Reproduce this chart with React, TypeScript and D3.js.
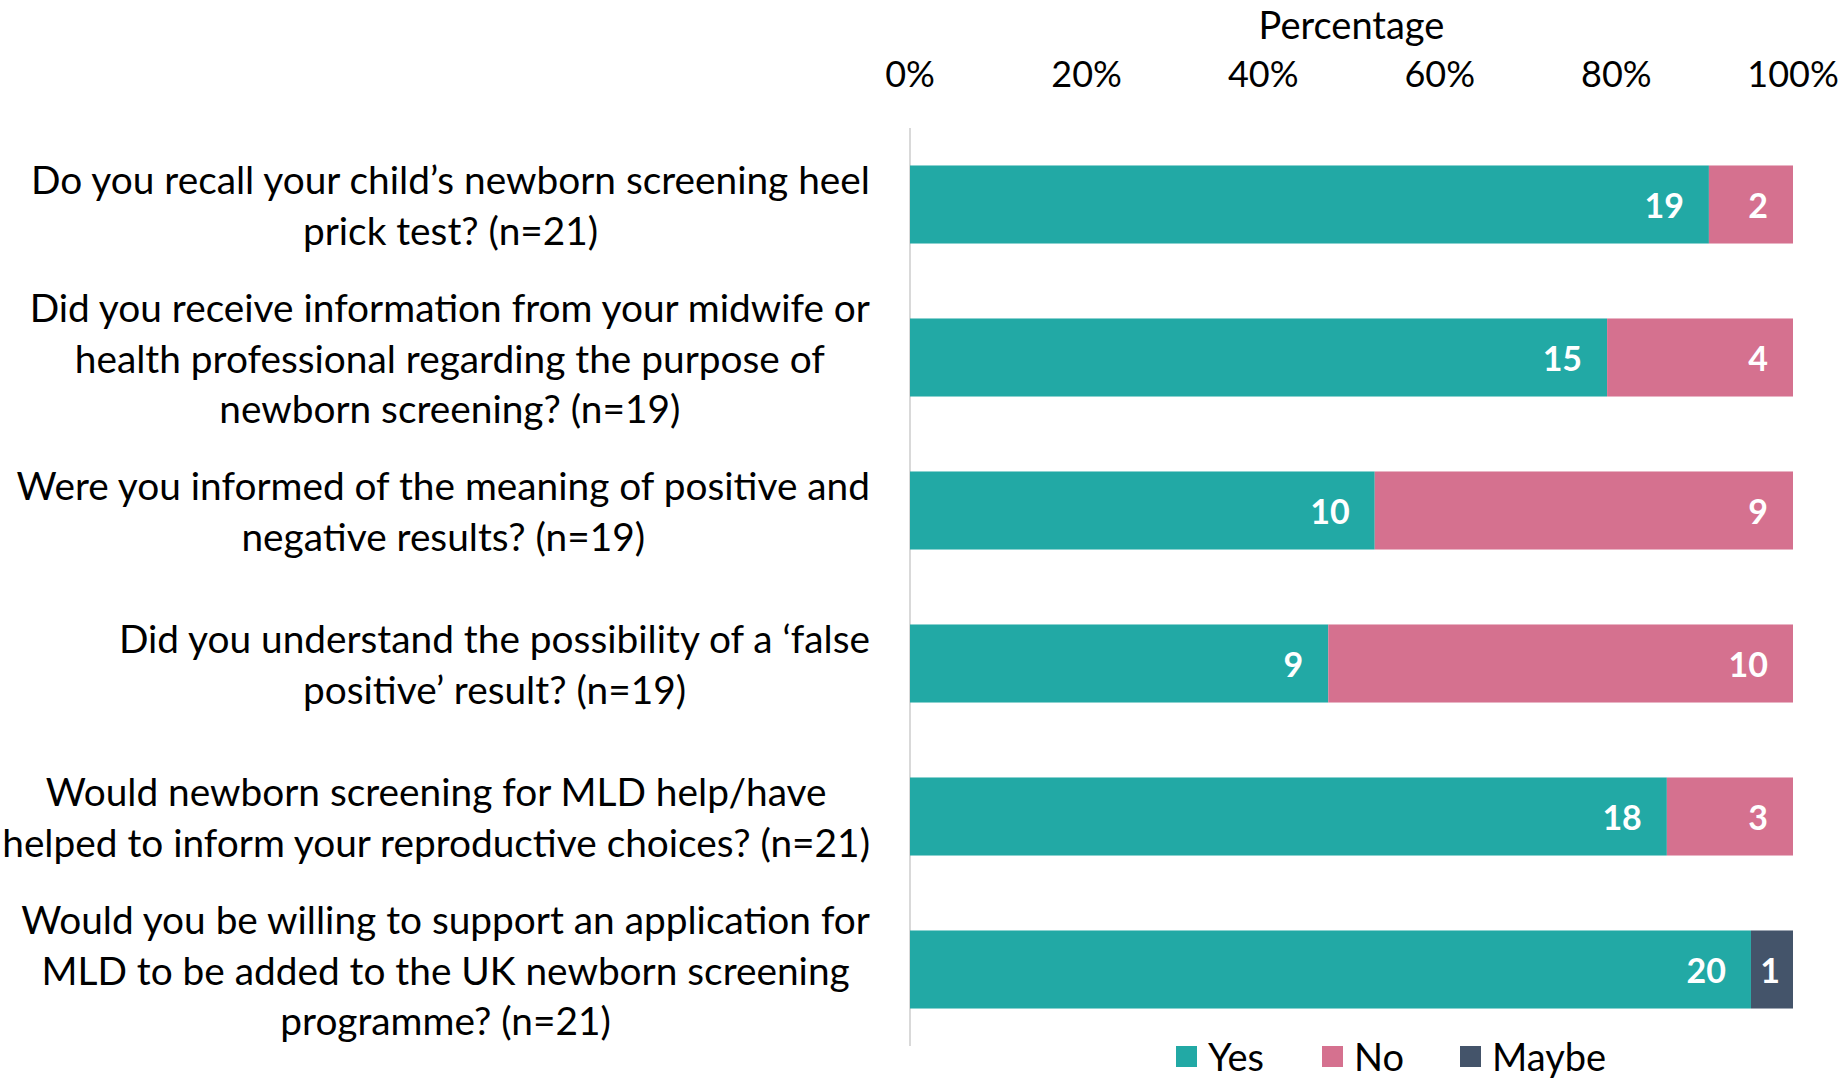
import React, { useEffect, useRef } from "react";
import * as d3 from "d3";

const categories: string[][] = [
  ["Do you recall your child’s newborn screening heel", "prick test? (n=21)"],
  ["Did you receive information from your midwife or", "health professional regarding the purpose of", "newborn screening? (n=19)"],
  ["Were you informed of the meaning of positive and", "negative results? (n=19)"],
  ["Did you understand the possibility of a ‘false", "positive’ result? (n=19)"],
  ["Would newborn screening for MLD help/have", "helped to inform your reproductive choices? (n=21)"],
  ["Would you be willing to support an application for", "MLD to be added to the UK newborn screening", "programme? (n=21)"],
];
const yesValues = [19, 15, 10, 9, 18, 20];
const noValues = [2, 4, 9, 10, 3, 0];
const maybeValues = [0, 0, 0, 0, 0, 1];
const seriesNames = ["Yes", "No", "Maybe"];
const seriesColors = ["#22A9A5", "#D5718F", "#44546A"];
const tickValues = [0, 0.2, 0.4, 0.6, 0.8, 1.0];

const W = 1839;
const H = 1082;
const FONT = "Lato, 'Open Sans', sans-serif";

export default function App() {
  const ref = useRef<SVGSVGElement>(null);

  useEffect(() => {
    document.body.style.margin = "0";
    const svg = d3.select(ref.current);
    svg.selectAll("*").remove();

    const x0 = 910, x1 = 1793, yTop = 128, yBot = 1046;
    const x = d3.scaleLinear().domain([0, 1]).range([x0, x1]);
    const y = d3.scaleBand<number>().domain(d3.range(categories.length)).range([yTop, yBot]).paddingInner(0.49).paddingOuter(0.245);

    const rows = categories.map((_, i) => {
      const total = yesValues[i] + noValues[i] + maybeValues[i];
      return { i, Yes: yesValues[i] / total, No: noValues[i] / total, Maybe: maybeValues[i] / total, raw: [yesValues[i], noValues[i], maybeValues[i]] };
    });
    const stack = d3.stack<any>().keys(seriesNames);
    const stacked = stack(rows);

    // axis line
    svg.append("line").attr("x1", x0).attr("x2", x0).attr("y1", yTop).attr("y2", yBot)
      .attr("stroke", "#D9D9D9").attr("stroke-width", 2);

    // bars
    stacked.forEach((layer, si) => {
      const g = svg.append("g");
      layer.forEach((d, ri) => {
        const v = rows[ri].raw[si];
        if (v === 0) return;
        const xa = x(d[0]), xb = x(d[1]);
        const by = y(ri)!;
        g.append("rect").attr("x", xa).attr("y", by).attr("width", xb - xa).attr("height", y.bandwidth())
          .attr("fill", seriesColors[si]);
        const pad = Math.min(25, (xb - xa) / 2 - 8);
        g.append("text").attr("x", xb - pad).attr("y", by + y.bandwidth() / 2)
          .attr("text-anchor", "end").attr("dominant-baseline", "central")
          .attr("fill", "#fff").attr("font-weight", 700).attr("font-size", 34).attr("font-family", FONT)
          .text(String(v));
      });
    });

    // top axis ticks
    svg.append("g").selectAll("text").data(tickValues).join("text")
      .attr("x", (d) => x(d)).attr("y", 73).attr("text-anchor", "middle").attr("dominant-baseline", "central")
      .attr("font-size", 36).attr("font-family", FONT).attr("fill", "#000")
      .text((d) => d3.format(".0%")(d));
    svg.append("text").attr("x", (x0 + x1) / 2).attr("y", 24).attr("text-anchor", "middle")
      .attr("dominant-baseline", "central").attr("font-size", 38).attr("font-family", FONT).attr("fill", "#000")
      .text("Percentage");

    // category labels
    const rightEdge = 870;
    const lineH = 50.8;
    categories.forEach((lines, i) => {
      const cy = y(i)! + y.bandwidth() / 2;
      const g = svg.append("g");
      const texts = lines.map((ln, li) =>
        g.append("text").attr("y", cy + (li - (lines.length - 1) / 2) * lineH)
          .attr("text-anchor", "middle").attr("dominant-baseline", "central")
          .attr("font-size", 38.8).attr("font-family", FONT).attr("fill", "#000").text(ln)
      );
      const maxW = d3.max(texts, (t) => (t.node() as SVGTextElement).getComputedTextLength()) || 0;
      texts.forEach((t) => t.attr("x", rightEdge - maxW / 2));
    });

    // legend
    const legendX = [1176, 1322, 1460];
    const ly = 1056;
    seriesNames.forEach((name, si) => {
      svg.append("rect").attr("x", legendX[si]).attr("y", ly - 10).attr("width", 21).attr("height", 21).attr("fill", seriesColors[si]);
      svg.append("text").attr("x", legendX[si] + 32).attr("y", ly).attr("dominant-baseline", "central")
        .attr("font-size", 38).attr("font-family", FONT).attr("fill", "#000").text(name);
    });
  }, []);

  return <svg ref={ref} width={W} height={H} style={{ display: "block", position: "absolute", left: 0, top: 0, background: "#fff" }} />;
}
